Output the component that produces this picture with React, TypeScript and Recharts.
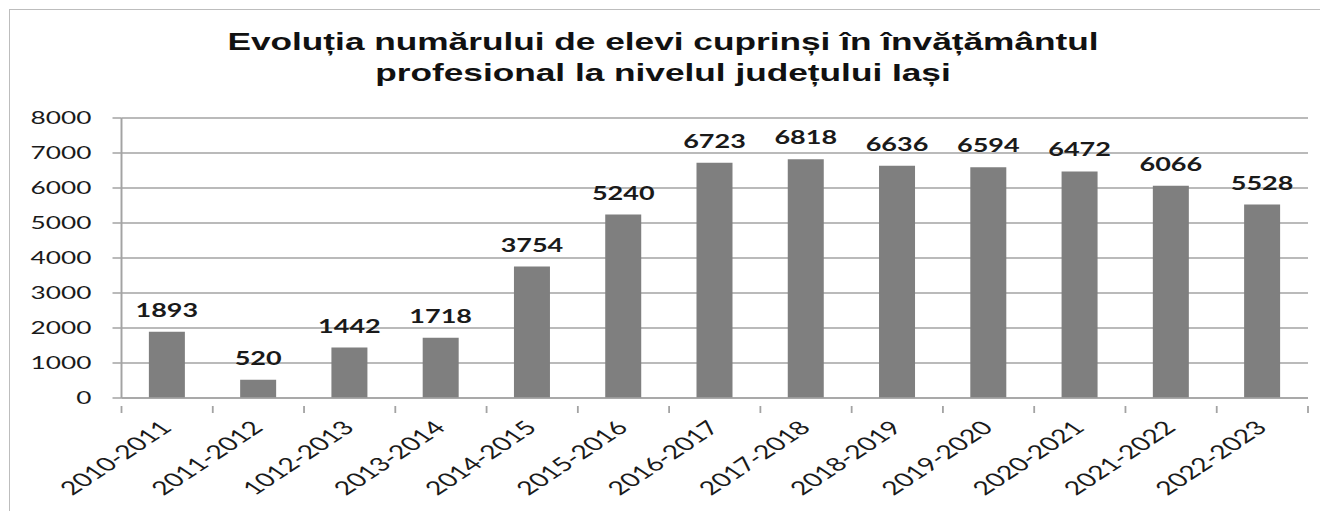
// Evolutia numarului de elevi - bar chart with value labels
// The source picture is a horizontally stretched Excel chart, so the chart is drawn
// at 880px wide and then stretched by 1.5 along x.

import React from 'react';
import { Bar, BarChart, CartesianGrid, LabelList, XAxis, YAxis } from 'recharts';

const years = [
  '2010-2011',
  '2011-2012',
  '1012-2013',
  '2013-2014',
  '2014-2015',
  '2015-2016',
  '2016-2017',
  '2017-2018',
  '2018-2019',
  '2019-2020',
  '2020-2021',
  '2021-2022',
  '2022-2023',
];
const students = [1893, 520, 1442, 1718, 3754, 5240, 6723, 6818, 6636, 6594, 6472, 6066, 5528];
const yTicks = [0, 1000, 2000, 3000, 4000, 5000, 6000, 7000, 8000];
const titleLines = [
  'Evoluția numărului de elevi cuprinși în învățământul',
  'profesional la nivelul județului Iași',
];

const data = years.map((year, i) => ({ year, value: students[i] }));

const STRETCH = 1.5;
const W = 880;
const H = 511;
const GRID = '#a3a3a3';
const TEXT = '#1a1a1a';
const FONT = 'Lato, "Open Sans", sans-serif';

function YearTick(props: any) {
  const { x, y, payload, index } = props;
  const half = payload?.offset ?? 30.4;
  const last = index === years.length - 1;
  return (
    <g>
      <line x1={x - half} x2={x - half} y1={y} y2={y + 7} stroke={GRID} strokeWidth={1.2} />
      {last && <line x1={x + half} x2={x + half} y1={y} y2={y + 7} stroke={GRID} strokeWidth={1.2} />}
      <g transform={`translate(${x + 4},${y + 23})`}>
        <text textAnchor="end" transform="rotate(-45)" fill={TEXT} fontSize={19} fontFamily={FONT}>
          {payload.value}
        </text>
      </g>
    </g>
  );
}

function ValueLabel(props: any) {
  const { x, y, width, value } = props;
  return (
    <text
      x={x + width / 2}
      y={y - 15}
      textAnchor="middle"
      fill={TEXT}
      fontSize={18}
      fontWeight="bold"
      fontFamily={FONT}
    >
      {value}
    </text>
  );
}

export default function App() {
  return (
    <div
      style={{
        position: 'absolute',
        left: 0,
        top: 0,
        width: 1320,
        height: H,
        overflow: 'hidden',
        background: '#fff',
      }}
    >
      <div
        style={{
          position: 'absolute',
          left: 9,
          top: 9,
          width: 1340,
          height: 540,
          border: '1.5px solid #bdbdbd',
        }}
      />
      <div
        style={{
          position: 'absolute',
          left: 0,
          top: 0,
          width: W,
          height: H,
          transform: `scale(${STRETCH}, 1)`,
          transformOrigin: '0 0',
        }}
      >
        <svg width={W} height={100} style={{ position: 'absolute', left: 0, top: 0 }}>
          <text
            x={442}
            y={50}
            textAnchor="middle"
            fontFamily='"Liberation Sans", Arial, sans-serif'
            fontWeight="bold"
            fontSize={23.5}
            fill="#111"
          >
            {titleLines[0]}
          </text>
          <text
            x={442}
            y={81}
            textAnchor="middle"
            fontFamily='"Liberation Sans", Arial, sans-serif'
            fontWeight="bold"
            fontSize={23.5}
            fill="#111"
          >
            {titleLines[1]}
          </text>
        </svg>
        <div style={{ position: 'absolute', left: 0, top: 0 }}>
          <BarChart
            width={W}
            height={H}
            data={data}
            margin={{ top: 118, right: 8, left: 0, bottom: 0 }}
            barCategoryGap="30%"
          >
            <CartesianGrid vertical={false} stroke={GRID} strokeWidth={1.5} />
            <XAxis
              dataKey="year"
              height={113}
              interval={0}
              tickLine={false}
              axisLine={{ stroke: GRID, strokeWidth: 1.5 }}
              tick={<YearTick />}
            />
            <YAxis
              width={81}
              domain={[0, 8000]}
              ticks={yTicks}
              interval={0}
              tickSize={6}
              tickMargin={14}
              tickLine={{ stroke: GRID, strokeWidth: 1.5 }}
              axisLine={{ stroke: GRID, strokeWidth: 1.3 }}
              tick={{ fill: TEXT, fontSize: 17.5, fontFamily: FONT }}
            />
            <Bar dataKey="value" fill="#7f7f7f" isAnimationActive={false}>
              <LabelList dataKey="value" content={<ValueLabel />} />
            </Bar>
          </BarChart>
        </div>
      </div>
    </div>
  );
}
